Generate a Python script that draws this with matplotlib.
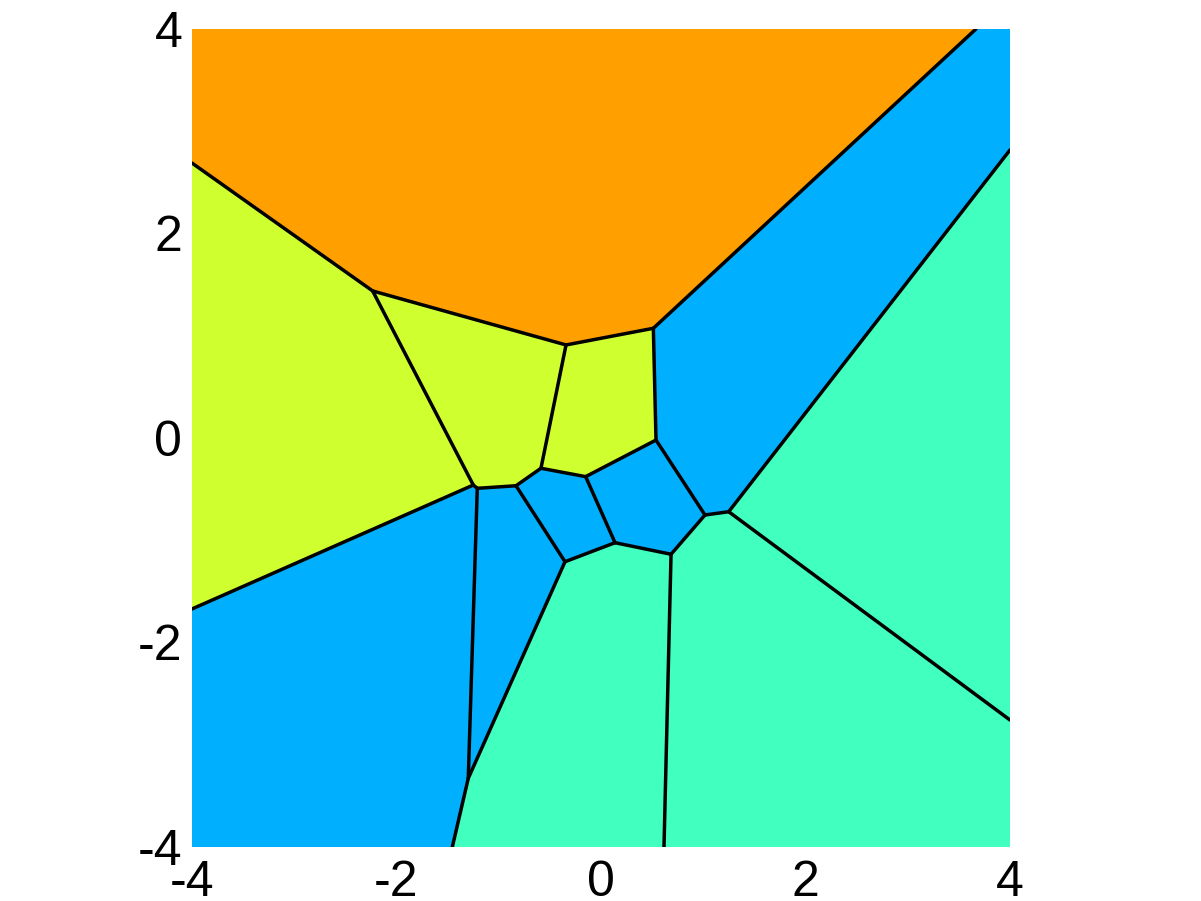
import matplotlib
matplotlib.use("Agg")
import matplotlib.pyplot as plt
from matplotlib.patches import Polygon

# Voronoi vertices (data coordinates), including points where edges meet the box
vertex_names = ["A", "B", "C", "D", "E", "F", "G", "H", "I", "J", "K", "L", "M", "N", "O",
                "T1", "L1", "L2", "B1", "B2", "R1", "R2",
                "TL", "TR", "BL", "BR"]
vertex_x = [-2.233, -0.342, 0.512, 0.538, -0.587, -0.150, -1.249, -1.210, -0.831, -0.352,
            0.137, 0.685, 1.017, 1.249, -1.298,
            3.667, -4.0, -4.0, -1.454, 0.616, 4.0, 4.0,
            -4.0, 4.0, -4.0, 4.0]
vertex_y = [1.438, 0.910, 1.073, -0.020, -0.296, -0.378, -0.460, -0.492, -0.467, -1.210,
            -1.024, -1.137, -0.753, -0.721, -3.328,
            4.0, 2.689, -1.672, -4.0, -4.0, 2.817, -2.758,
            4.0, 4.0, -4.0, -4.0]

# cells as vertex name sequences, with their class
cells = [
    ["TL", "T1", "C", "B", "A", "L1"],
    ["L1", "A", "G", "L2"],
    ["A", "B", "E", "I", "H", "G"],
    ["B", "C", "D", "F", "E"],
    ["C", "T1", "TR", "R1", "N", "M", "D"],
    ["E", "F", "K", "J", "I"],
    ["F", "D", "M", "L", "K"],
    ["L2", "G", "H", "O", "B1", "BL"],
    ["H", "I", "J", "O"],
    ["R1", "R2", "N"],
    ["N", "R2", "BR", "B2", "L", "M"],
    ["O", "J", "K", "L", "B2", "B1"],
]
cell_class = [4, 3, 3, 3, 2, 2, 2, 2, 2, 1, 1, 1]
class_colors = {1: "#40FFBF", 2: "#00B0FF", 3: "#D0FF30", 4: "#FF9F00"}

edges = [("L1", "A"), ("A", "B"), ("B", "C"), ("C", "T1"), ("C", "D"), ("B", "E"),
         ("A", "G"), ("G", "L2"), ("G", "H"), ("H", "I"), ("I", "E"), ("E", "F"),
         ("F", "D"), ("F", "K"), ("K", "J"), ("J", "I"), ("K", "L"), ("L", "M"),
         ("M", "D"), ("M", "N"), ("N", "R1"), ("N", "R2"), ("H", "O"), ("O", "B1"),
         ("J", "O"), ("L", "B2")]

xticks = [-4, -2, 0, 2, 4]
yticks = [-4, -2, 0, 2, 4]

pos = {n: (x, y) for n, x, y in zip(vertex_names, vertex_x, vertex_y)}

plt.rcParams['font.family'] = ['Liberation Sans', 'DejaVu Sans']
fig = plt.figure(figsize=(12.01, 9.01), dpi=100)
ax = fig.add_axes([192 / 1201, 54 / 901, 818 / 1201, 818 / 901])

for cell, cls in zip(cells, cell_class):
    ax.add_patch(Polygon([pos[n] for n in cell], closed=True,
                         facecolor=class_colors[cls], edgecolor=class_colors[cls],
                         linewidth=0.5))
for a, b in edges:
    ax.plot([pos[a][0], pos[b][0]], [pos[a][1], pos[b][1]], color="black",
            linewidth=2.5, solid_capstyle="round")

ax.set_xlim(-4, 4)
ax.set_ylim(-4, 4)
ax.set_xticks(xticks)
ax.set_yticks(yticks)
ax.set_xticklabels([str(t) for t in xticks])
ax.set_yticklabels([str(t) for t in yticks])
ax.tick_params(length=0, labelsize=36)
ax.tick_params(axis='x', pad=9)
ax.tick_params(axis='y', pad=7)
for s in ax.spines.values():
    s.set_visible(False)

fig.savefig("out.png", dpi=100)
